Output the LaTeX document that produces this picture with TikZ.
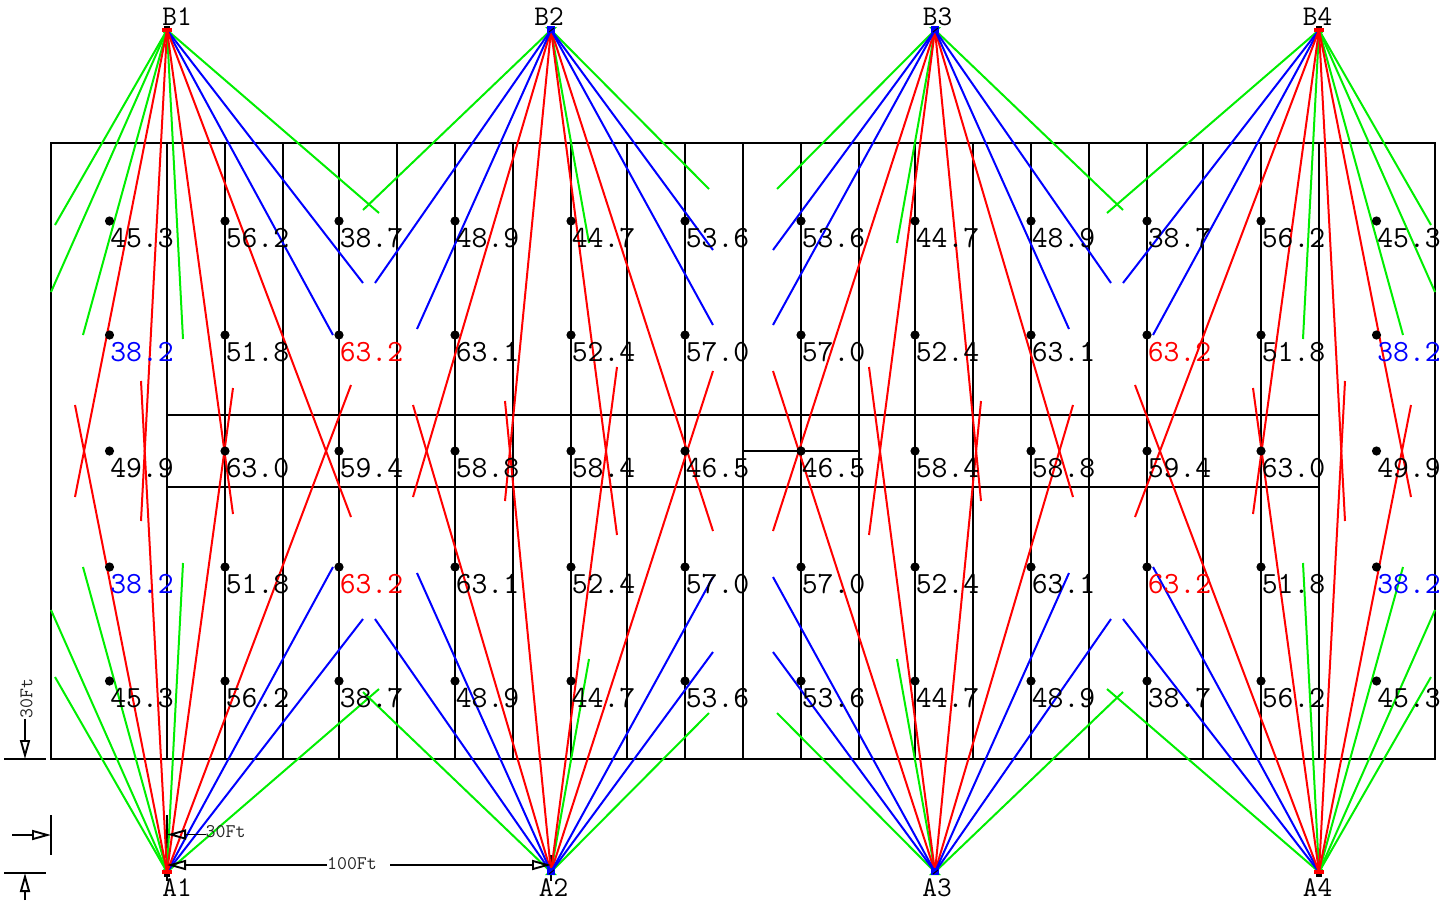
\documentclass[tikz,border=0pt]{standalone}
\usepackage{fontspec}
\usetikzlibrary{arrows.meta}
\definecolor{gr}{HTML}{00EE00}
\definecolor{bl}{HTML}{0000FF}
\definecolor{rd}{HTML}{FF0000}
\colorlet{kk}{black}
\tikzset{
  wall/.style={black,line width=2pt},
  beam/.style={line width=2pt},
  dim/.style={black,line width=1.9pt},
  dimtip/.style={-{Triangle[open,length=19pt,width=10pt,line width=1.9pt]}},
  val/.style={inner sep=0pt,anchor=base west,font=\fontsize{30.8}{30.8}\selectfont\ttfamily},
  polelab/.style={inner sep=0pt,anchor=base,font=\fontsize{28.5}{28.5}\selectfont\ttfamily},
  dimlab/.style={inner sep=0pt,font=\fontsize{19.3}{19.3}\selectfont\ttfamily,text=black!85},
}
\newcommand\valrow[3]{%
  \foreach \vx/\vc/\vt [count=\vi] in #3 {%
    \fill[black] (\vx,#1) circle[radius=4.6pt] coordinate (dl#1-\vi);
    \fill[black] ({1486-\vx},#1) circle[radius=4.6pt] coordinate (dr#1-\vi);
    \node[val,text=\vc] (tl#1-\vi) at (\vx+0.6,#2) {\vt};
    \node[val,text=\vc] (tr#1-\vi) at ({1486-\vx+0.6},#2) {\vt};
  }}
\def\rowA{109.5/kk/45.3,225/kk/56.2,339/kk/38.7,455/kk/48.9,571/kk/44.7,685/kk/53.6}
\def\rowB{109.5/bl/38.2,225/kk/51.8,339/rd/63.2,455/kk/63.1,571/kk/52.4,685/kk/57.0}
\def\rowC{109.5/kk/49.9,225/kk/63.0,339/kk/59.4,455/kk/58.8,571/kk/58.4,685/kk/46.5}
\begin{document}
\begin{tikzpicture}[x=1pt,y=-1pt]
\useasboundingbox (0,0) rectangle (1441,900);
% building
\draw[wall] (51,143) rectangle (1435,759);
\foreach \gx in {167,225,283,339,397,455,513,571,627,685,743,801,859,915,973,1031,1089,1147,1203,1261,1319}
  \draw[wall] (\gx,143) -- (\gx,759);
\draw[wall] (167,415) -- (1319,415);
\draw[wall] (167,487) -- (1319,487);
\draw[wall] (743,451) -- (859,451);
% poles
\foreach \pn/\px/\py in {B1/167/30,B2/551/30,B3/935/30,B4/1319/30,A1/167/872,A2/551/872,A3/935/872,A4/1319/872}
  \coordinate (\pn) at (\px,\py);
% dimension ticks
\coordinate (t1a) at (167,815); \coordinate (t1b) at (167,881);
\coordinate (t2a) at (551,855); \coordinate (t2b) at (551,881);
\draw[dim] (t1a) -- (t1b);
\draw[dim] (t2a) -- (t2b);
% outer-pole markers, behind the beams
\foreach \pn/\sg in {B1/1,B4/1,A1/-1,A4/-1}{
  \fill[gr] ([yshift={-7*\sg}]\pn) -- ([shift={(-5,1*\sg)}]\pn) -- ([shift={(5,1*\sg)}]\pn) -- cycle;
  \fill[black] ([shift={(-3,-4.5*\sg)}]\pn) rectangle ([shift={(3,-1.5*\sg)}]\pn);
}
\foreach \pn/\sg in {B2/1,B3/1,A2/-1,A3/-1}{
  \fill[gr] ([shift={(-6,-3*\sg)}]\pn) -- ([shift={(6,-3*\sg)}]\pn) -- ([shift={(0,3*\sg)}]\pn) -- cycle;
}
% beams: outer poles
\foreach \pn/\sx/\sy in {B1/1/1,B4/-1/1,A1/1/-1,A4/-1/-1}{
  \foreach \bc/\bx/\by [count=\bi] in {gr/55/225,gr/51/292,gr/83/335,gr/183/339,gr/379/213,
      bl/333/335,bl/363/283,
      rd/75/497,rd/141/521,rd/233/514,rd/351/517}{
    \coordinate (\pn e\bi) at ({743+\sx*(\bx-743)},{451+\sy*(\by-451)});
    \draw[beam,\bc] (\pn) -- (\pn e\bi);
  }
  \fill[rd] ([shift={(-5,-2)}]\pn) rectangle ([shift={(5,2)}]\pn);
}
% beams: inner poles
\foreach \pn/\sx/\sy in {B2/1/1,B3/-1/1,A2/1/-1,A3/-1/-1}{
  \foreach \bc/\bx/\by [count=\bi] in {gr/709/189,gr/589/243,gr/363/210,
      rd/713/531,rd/617/535,rd/505/501,rd/413/497,
      bl/713/250,bl/713/325,bl/417/329,bl/375/283}{
    \coordinate (\pn e\bi) at ({743+\sx*(\bx-743)},{451+\sy*(\by-451)});
    \draw[beam,\bc] (\pn) -- (\pn e\bi);
  }
  \fill[bl] ([shift={(-4,-4)}]\pn) rectangle ([shift={(4,3)}]\pn);
  \draw[black,line width=1pt] ([shift={(-2,2)}]\pn) -- ([shift={(3,-2)}]\pn);
}
% measured values
\valrow{221}{247}{\rowA}
\valrow{335}{361}{\rowB}
\valrow{451}{477}{\rowC}
\valrow{567}{593}{\rowB}
\valrow{681}{707}{\rowA}
% pole labels
\node[polelab] (lB1) at (177,25) {B1};
\node[polelab] (lB2) at (549,25) {B2};
\node[polelab] (lB3) at (937.5,25) {B3};
\node[polelab] (lB4) at (1317.5,25) {B4};
\node[polelab] (lA1) at (177,896) {A1};
\node[polelab] (lA2) at (553.5,896) {A2};
\node[polelab] (lA3) at (937,896) {A3};
\node[polelab] (lA4) at (1317.5,896) {A4};
% dimensions
\node[dimlab,rotate=90] (d30v) at (26.5,698.5) {30Ft};
\coordinate (lv) at (25,759);
\draw[dim,dimtip] (d30v.west -| lv) -- (lv);
\coordinate (tla) at (4,759); \coordinate (tlb) at (46,759);
\draw[dim] (tla) -- (tlb);
\coordinate (bvs) at (25,900); \coordinate (bve) at (25,873);
\draw[dim,dimtip] (bvs) -- (bve);
\coordinate (tba) at (4,873); \coordinate (tbb) at (46,873);
\draw[dim] (tba) -- (tbb);
\coordinate (hls) at (12,835); \coordinate (hle) at (51,835);
\draw[dim,dimtip] (hls) -- (hle);
\coordinate (tha) at (51,815); \coordinate (thb) at (51,855);
\draw[dim] (tha) -- (thb);
\node[dimlab,anchor=west] (d30h) at (205.5,832) {30Ft};
\coordinate (hre) at (167,834.5);
\draw[dim,dimtip] (d30h.west |- hre) -- (hre);
\node[dimlab] (d100) at (352,864) {100Ft};
\coordinate (la) at (167,865); \coordinate (lb) at (551,865);
\draw[dim,dimtip] (327,865) -- (la);
\draw[dim,dimtip] (390,865) -- (lb);
\end{tikzpicture}
\end{document}
